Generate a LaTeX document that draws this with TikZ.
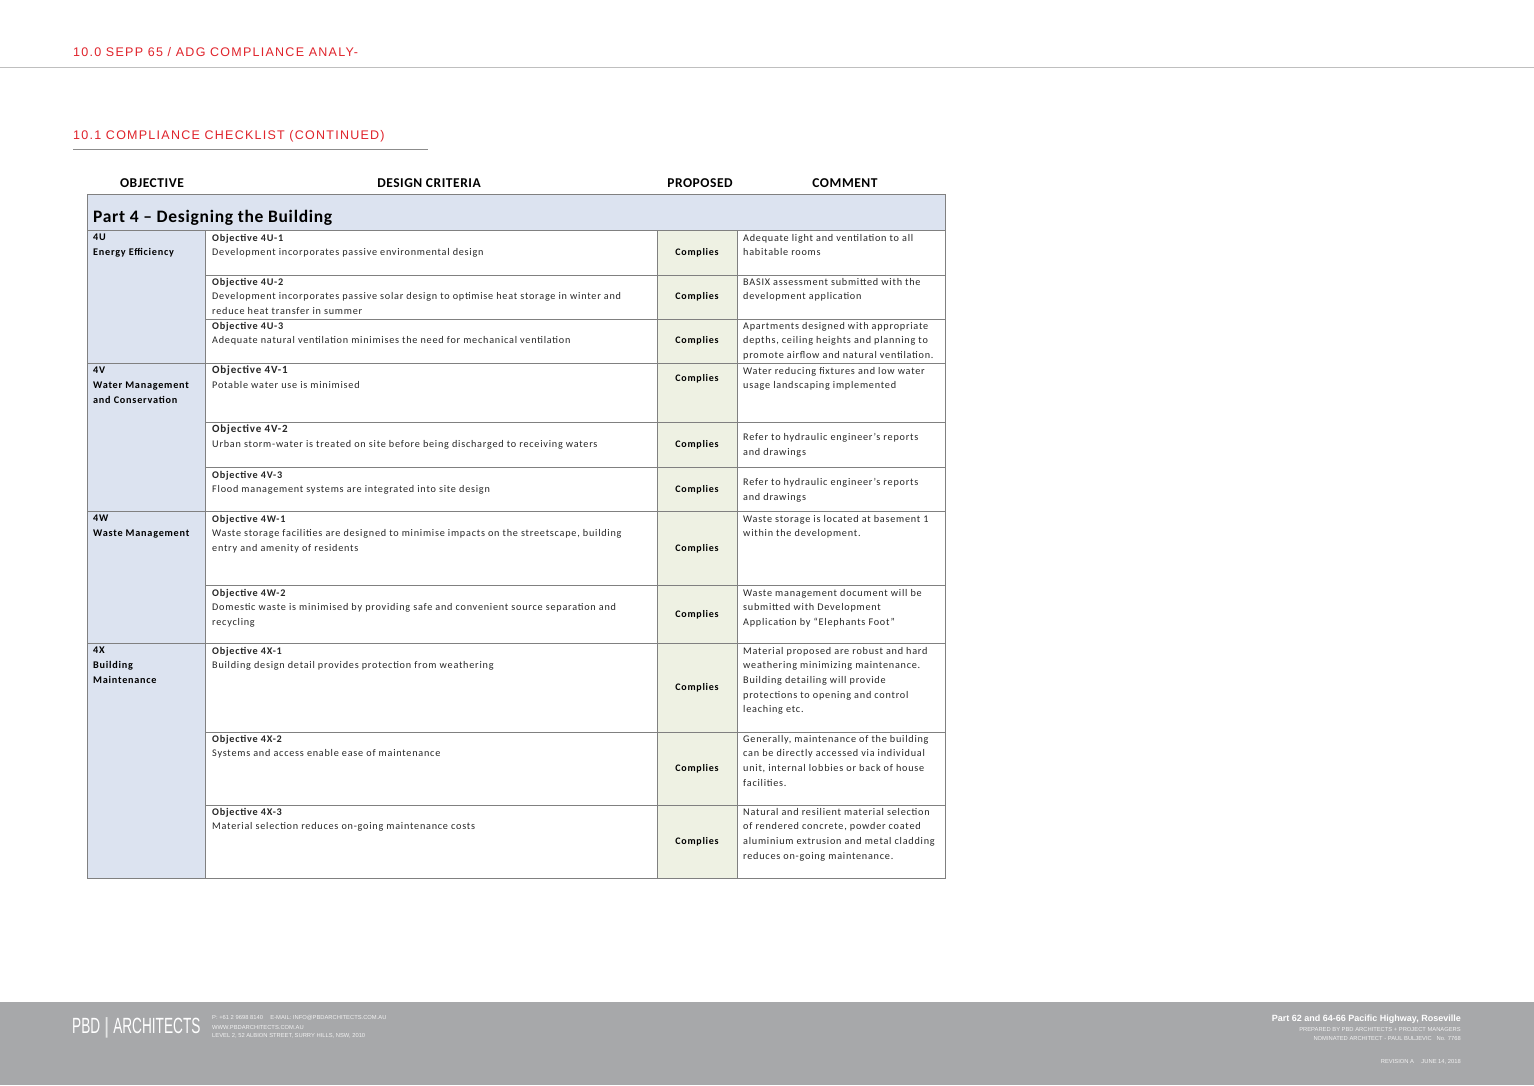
\documentclass[tikz,border=0pt]{standalone}
\usepackage{fontspec}
\setmainfont{Carlito}
\newfontfamily\hfont{Liberation Sans}
\newfontfamily\bodyf[LetterSpace=7.5]{Carlito}
\newfontfamily\headf[LetterSpace=4]{Carlito}
\newfontfamily\redf[LetterSpace=10]{Liberation Sans}
\definecolor{redt}{HTML}{E0232B}
\definecolor{bluef}{HTML}{DCE3F0}
\definecolor{greenf}{HTML}{EEF1E3}
\definecolor{foot}{HTML}{A7A8AA}
\definecolor{gl}{HTML}{808080}
\begin{document}
\begin{tikzpicture}[x=1pt,y=-1pt,
 txt/.style={anchor=north west,inner sep=0pt,align=left,font=\bodyf\fontsize{10.2}{14.6}\selectfont,text=black!85},
 obj/.style={anchor=north west,inner sep=0pt,align=left,font=\bodyf\fontsize{10.2}{14.6}\selectfont\bfseries},
 cmp/.style={anchor=center,inner sep=0pt,font=\bodyf\fontsize{10}{12}\selectfont\bfseries},
 hd/.style={anchor=center,inner sep=0pt,font=\headf\fontsize{13.5}{14}\selectfont\bfseries},
 ft/.style={inner sep=0pt,text=white!85!foot,font=\hfont\fontsize{5.8}{7}\selectfont}]
\useasboundingbox (0,0) rectangle (1534,1085);
\fill[white] (0,0) rectangle (1534,1085);
\node[anchor=west,inner sep=0pt,text=redt,font=\redf\fontsize{12.5}{14}\selectfont] (t1) at (73,52) {10.0 SEPP 65 / ADG COMPLIANCE ANALY-};
\draw[black!25] (0,67) -- (1534,67);
\node[anchor=west,inner sep=0pt,text=redt,font=\redf\fontsize{12.5}{14}\selectfont] (t2) at (73,136) {10.1 COMPLIANCE CHECKLIST (CONTINUED)};
\draw[black!45] (73,149) -- (428,149);
\node[hd] (h1) at (152,183) {OBJECTIVE};
\node[hd] (h2) at (429,183) {DESIGN CRITERIA};
\node[hd] (h3) at (700,183) {PROPOSED};
\node[hd] (h4) at (845,183) {COMMENT};
% fills
\fill[bluef] (87,194) rectangle (945,230);
\fill[bluef] (87,230) rectangle (205,878);
\fill[greenf] (657,230) rectangle (737,878);
\draw[gl,line width=0.8] (87,194) rectangle (945,878);
\draw[gl,line width=0.8] (87,230) -- (945,230);
\foreach \x in {205,657,737} \draw[gl,line width=0.8] (\x,230) -- (\x,878);
\foreach \y in {275,319,422,467,585,732,805} \draw[gl,line width=0.6] (205,\y) -- (945,\y);
\foreach \y in {363,511,643} \draw[gl,line width=0.8] (87,\y) -- (945,\y);
\node[anchor=west,inner sep=0pt,font=\headf\fontsize{17.5}{18}\selectfont\bfseries] (p4) at (93,218) {Part 4 – Designing the Building};
% left column
\node[obj] (g1) at (93,234) {4U\\Energy Efficiency};
\node[obj] (g2) at (93,367) {4V\\Water Management\\and Conservation};
\node[obj] (g3) at (93,515) {4W\\Waste Management};
\node[obj] (g4) at (93,647) {4X\\Building\\Maintenance};
% criteria
\node[txt] (c1) at (212,234) {\textbf{Objective 4U-1}\\Development incorporates passive environmental design};
\node[txt] (c2) at (212,278) {\textbf{Objective 4U-2}\\Development incorporates passive solar design to optimise heat storage in winter and\\reduce heat transfer in summer};
\node[txt] (c3) at (212,322) {\textbf{Objective 4U-3}\\Adequate natural ventilation minimises the need for mechanical ventilation};
\node[txt] (c4) at (212,366) {\textbf{\fontsize{11}{14.6}\selectfont Objective 4V-1}\\Potable water use is minimised};
\node[txt] (c5) at (212,425) {\textbf{\fontsize{11}{14.6}\selectfont Objective 4V-2}\\Urban storm-water is treated on site before being discharged to receiving waters};
\node[txt] (c6) at (212,471) {\textbf{Objective 4V-3}\\Flood management systems are integrated into site design};
\node[txt] (c7) at (212,515) {\textbf{Objective 4W-1}\\Waste storage facilities are designed to minimise impacts on the streetscape, building\\entry and amenity of residents};
\node[txt] (c8) at (212,589) {\textbf{Objective 4W-2}\\Domestic waste is minimised by providing safe and convenient source separation and\\recycling};
\node[txt] (c9) at (212,647) {\textbf{Objective 4X-1}\\Building design detail provides protection from weathering};
\node[txt] (c10) at (212,735) {\textbf{Objective 4X-2}\\Systems and access enable ease of maintenance};
\node[txt] (c11) at (212,808) {\textbf{Objective 4X-3}\\Material selection reduces on-going maintenance costs};
% complies
\foreach \y/\n in {253/a,297/b,341/c,379/d,445/e,490/f,549/g,615/h,688/i,769/j,842/k}
  \node[cmp] (k\n) at (697,\y) {Complies};
% comments
\node[txt] (m1) at (743,234) {Adequate light and ventilation to all\\habitable rooms};
\node[txt] (m2) at (743,278) {BASIX assessment submitted with the\\development application};
\node[txt] (m3) at (743,322) {Apartments designed with appropriate\\depths, ceiling heights and planning to\\promote airflow and natural ventilation.};
\node[txt] (m4) at (743,367) {Water reducing fixtures and low water\\usage landscaping implemented};
\node[txt] (m5) at (743,433) {Refer to hydraulic engineer’s reports\\and drawings};
\node[txt] (m6) at (743,478) {Refer to hydraulic engineer’s reports\\and drawings};
\node[txt] (m7) at (743,515) {Waste storage is located at basement 1\\within the development.};
\node[txt] (m8) at (743,589) {Waste management document will be\\submitted with Development\\Application by “Elephants Foot”};
\node[txt] (m9) at (743,647) {Material proposed are robust and hard\\weathering minimizing maintenance.\\Building detailing will provide\\protections to opening and control\\leaching etc.};
\node[txt] (m10) at (743,735) {Generally, maintenance of the building\\can be directly accessed via individual\\unit, internal lobbies or back of house\\facilities.};
\node[txt] (m11) at (743,808) {Natural and resilient material selection\\of rendered concrete, powder coated\\aluminium extrusion and metal cladding\\reduces on-going maintenance.};
% footer
\fill[foot] (0,1002) rectangle (1534,1085);
\node[anchor=west,inner sep=0pt,text=white,font=\hfont\fontsize{22}{22}\selectfont] (logo) at (72,1028) {\scalebox{0.62}[1]{PBD}\,{\color{white!70!foot}|}\,\scalebox{0.62}[1]{ARCHITECTS}};
\node[ft,anchor=west] (fa1) at (212,1018) {P: +61 2 9698 8140 \quad E-MAIL: INFO@PBDARCHITECTS.COM.AU};
\node[ft,anchor=west] (fa2) at (212,1027) {WWW.PBDARCHITECTS.COM.AU};
\node[ft,anchor=west] (fa3) at (212,1036) {LEVEL 2, 52 ALBION STREET, SURRY HILLS, NSW, 2010};
\node[anchor=east,inner sep=0pt,text=white,font=\hfont\bfseries\fontsize{9}{10}\selectfont] (fb) at (1461,1019) {Part 62 and 64-66 Pacific Highway, Roseville};
\node[ft,anchor=east] (fc1) at (1461,1029) {PREPARED BY PBD ARCHITECTS + PROJECT MANAGERS};
\node[ft,anchor=east] (fc2) at (1461,1038) {NOMINATED ARCHITECT - PAUL BULJEVIC \ \ No. 7768};
\node[ft,anchor=east] (fd) at (1461,1062) {REVISION A \quad JUNE 14, 2018};
\end{tikzpicture}
\end{document}
